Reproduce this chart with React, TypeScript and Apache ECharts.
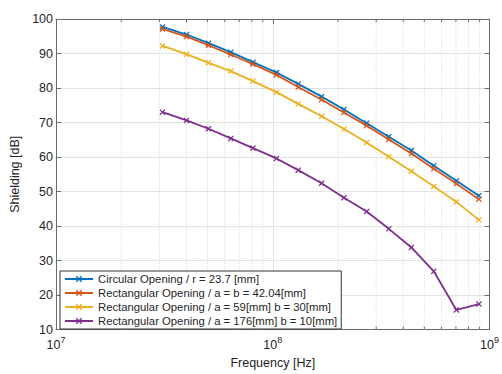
import React, { useEffect, useRef } from "react";
import * as echarts from "echarts";

const frequencies = [3.1e7, 4.0e7, 5.05e7, 6.4e7, 8.1e7, 1.04e8, 1.31e8, 1.68e8, 2.13e8, 2.71e8, 3.43e8, 4.36e8, 5.53e8, 7.03e8, 8.93e8];
const circular = [97.7, 95.5, 93.0, 90.4, 87.5, 84.5, 81.2, 77.5, 73.8, 69.8, 65.9, 61.9, 57.5, 53.1, 48.8];
const rectSquare = [97.1, 94.9, 92.4, 89.7, 86.9, 83.8, 80.3, 76.6, 72.9, 69.1, 65.1, 61.0, 56.6, 52.3, 47.8];
const rect59x30 = [92.2, 89.8, 87.3, 84.9, 82.0, 78.8, 75.4, 71.8, 68.1, 64.2, 60.1, 55.9, 51.5, 47.0, 41.8];
const rect176x10 = [73.0, 70.6, 68.2, 65.4, 62.6, 59.6, 56.2, 52.4, 48.2, 44.2, 39.2, 33.8, 26.9, 15.7, 17.4];

const seriesNames = [
  "Circular Opening / r = 23.7 [mm]",
  "Rectangular Opening / a = b = 42.04[mm]",
  "Rectangular Opening / a = 59[mm] b = 30[mm]",
  "Rectangular Opening / a = 176[mm] b = 10[mm]",
];
const seriesColors = ["#0072BD", "#D95319", "#EDB120", "#7E2F8E"];
const minorTicks = [2e7, 3e7, 4e7, 5e7, 6e7, 7e7, 8e7, 9e7, 2e8, 3e8, 4e8, 5e8, 6e8, 7e8, 8e8, 9e8];

const X_MARK = "path://M0,1.5 L1.5,0 L5,3.5 L8.5,0 L10,1.5 L6.5,5 L10,8.5 L8.5,10 L5,6.5 L1.5,10 L0,8.5 L3.5,5 Z";
const FONT = "'Liberation Sans', Arial, sans-serif";
const TXT = "#262626";
const AX = "#6b6b6b";

export default function App() {
  const ref = useRef<HTMLDivElement>(null);
  useEffect(() => {
    if (!ref.current) return;
    const chart = echarts.init(ref.current, null, { renderer: "svg" });
    const allData = [circular, rectSquare, rect59x30, rect176x10];
    const lineSeries = allData.map((vals, i) => ({
      name: seriesNames[i],
      type: "line",
      xAxisIndex: 0,
      yAxisIndex: 0,
      data: frequencies.map((f, j) => [f, vals[j]]),
      symbol: X_MARK,
      symbolSize: 6,
      showSymbol: true,
      lineStyle: { color: seriesColors[i], width: 1.8 },
      itemStyle: { color: seriesColors[i] },
      z: 5 + i,
    }));
    const expLabel = (v: number) => `{b|10}{e|${Math.round(Math.log10(v))}}`;
    chart.setOption({
      animation: false,
      textStyle: { fontFamily: FONT, color: TXT },
      grid: { left: 56, right: 10, top: 19, bottom: 40, containLabel: false },
      legend: {
        data: seriesNames,
        orient: "vertical",
        left: 60,
        top: 271,
        itemWidth: 28,
        itemHeight: 8,
        itemGap: 0,
        padding: [1, 4, 1, 4],
        backgroundColor: "#ffffff",
        borderColor: "#333333",
        borderWidth: 1,
        borderRadius: 0,
        textStyle: { fontFamily: FONT, fontSize: 11.3, color: TXT, lineHeight: 14 },
        z: 20,
      },
      xAxis: [
        {
          type: "log",
          logBase: 10,
          min: 1e7,
          max: 1e9,
          position: "bottom",
          name: "Frequency [Hz]",
          nameLocation: "middle",
          nameGap: 26,
          nameTextStyle: { fontFamily: FONT, fontSize: 12.5, color: TXT },
          axisLine: { show: true, lineStyle: { color: AX, width: 1 } },
          axisTick: { show: true, inside: true, length: 5, lineStyle: { color: AX } },
          axisLabel: {
            margin: 6,
            formatter: expLabel,
            rich: {
              b: { fontFamily: FONT, fontSize: 12.5, color: TXT },
              e: { fontFamily: FONT, fontSize: 9, color: TXT, padding: [0, 0, 9, 0] },
            },
          },
          splitLine: { show: true, lineStyle: { color: "#e3e3e3", width: 1 } },
          minorTick: { show: false },
        },
        {
          type: "log",
          logBase: 10,
          min: 1e7,
          max: 1e9,
          position: "top",
          axisLine: { show: true, lineStyle: { color: AX, width: 1 } },
          axisTick: { show: true, inside: true, length: 5, lineStyle: { color: AX } },
          axisLabel: { show: false },
          splitLine: { show: false },
        },
      ],
      yAxis: [
        {
          type: "value",
          min: 10,
          max: 100,
          interval: 10,
          position: "left",
          name: "Shielding [dB]",
          nameLocation: "middle",
          nameGap: 31,
          nameTextStyle: { fontFamily: FONT, fontSize: 12.5, color: TXT },
          axisLine: { show: true, lineStyle: { color: AX, width: 1 } },
          axisTick: { show: true, inside: true, length: 5, lineStyle: { color: AX } },
          axisLabel: { margin: 3, fontFamily: FONT, fontSize: 12.5, color: TXT },
          splitLine: { show: true, lineStyle: { color: "#e3e3e3", width: 1 } },
        },
        {
          type: "value",
          min: 10,
          max: 100,
          interval: 10,
          position: "right",
          axisLine: { show: true, lineStyle: { color: AX, width: 1 } },
          axisTick: { show: true, inside: true, length: 5, lineStyle: { color: AX } },
          axisLabel: { show: false },
          splitLine: { show: false },
        },
      ],
      series: [
        {
          type: "custom",
          name: "minor",
          xAxisIndex: 0,
          yAxisIndex: 0,
          silent: true,
          z: 1,
          data: minorTicks.map((v) => [v, 10]),
          renderItem: (_params: any, api: any) => {
            const v = api.value(0);
            const top = api.coord([v, 100]);
            const bot = api.coord([v, 10]);
            return {
              type: "group",
              children: [
                {
                  type: "line",
                  shape: { x1: bot[0], y1: bot[1], x2: top[0], y2: top[1] },
                  style: { stroke: "#d0d0d0", lineWidth: 1, lineDash: [1, 2] },
                },
                {
                  type: "line",
                  shape: { x1: bot[0], y1: bot[1], x2: bot[0], y2: bot[1] - 3 },
                  style: { stroke: AX, lineWidth: 1 },
                },
                {
                  type: "line",
                  shape: { x1: top[0], y1: top[1], x2: top[0], y2: top[1] + 3 },
                  style: { stroke: AX, lineWidth: 1 },
                },
              ],
            };
          },
        },
        ...lineSeries,
      ],
    });
    return () => chart.dispose();
  }, []);
  return (
    <div
      ref={ref}
      style={{ position: "fixed", left: 0, top: 0, width: 502, height: 374, background: "#ffffff" }}
    />
  );
}
